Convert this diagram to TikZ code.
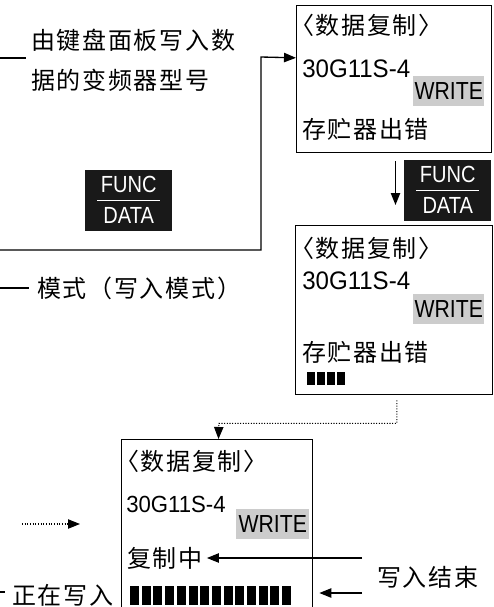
\documentclass[tikz,border=0pt]{standalone}
\usepackage{fontspec}
\setmainfont{Liberation Sans}
\newfontfamily\cjk[LetterSpace=7]{Noto Sans CJK SC}
\newfontfamily\cjkhalf[LetterSpace=7, RawFeature=+halt]{Noto Sans CJK SC}
\newfontfamily\narrow[FakeStretch=0.86]{Liberation Sans}
\newfontfamily\modelfont[FakeStretch=0.95]{Liberation Sans}
\usetikzlibrary{positioning, calc, arrows.meta}
\newdimen\px \px=0.75pt

\begin{document}
\begin{tikzpicture}[x=0.75pt, y=-0.75pt,
  screen/.style={draw, line width=1pt, anchor=north west, inner sep=0},
  zh/.style={anchor=west, inner sep=0, font=\cjk\fontsize{18}{18}\selectfont},
  zhb/.style={zh, font=\cjkhalf\fontsize{18}{18}\selectfont},
  model/.style={anchor=base west, inner sep=0, font=\modelfont\fontsize{19}{19}\selectfont},
  wr/.style={fill=black!20, anchor=north west, inner sep=0, minimum width=71\px, minimum height=30\px, font=\narrow\fontsize{18.5}{18.5}\selectfont},
  key/.style={fill=black!90, anchor=north west, inner sep=0, minimum width=87\px, minimum height=61\px},
  keyword/.style={text=white, inner sep=0, font=\narrow\fontsize{17.5}{17.5}\selectfont},
  link/.style={line width=1pt, -{Triangle[length=9pt, width=7pt]}},
  dots/.style={line width=0.8pt, dash pattern=on 0.8pt off 1.2pt, -{Triangle[length=9pt, width=7pt]}}]

\useasboundingbox (0,0) rectangle (493,607);

% left column
\coordinate (l1) at (0,58);
\coordinate (l2) at (0,288);
\coordinate (in1) at (0,250);
\node[zh] (t1) at (31,40) {由键盘面板写入数};
\node[zh] (t2) at (31,80) {据的变频器型号};
\draw[line width=1pt] (l1) -- ([xshift=-5\px]t1.west |- l1);
\node[key] (k1) at (85,170) {};
\node[keyword, above=6pt of k1.center] {FUNC};
\node[keyword, below=4.5pt of k1.center] {DATA};
\draw[white, line width=0.8pt] ([xshift=-23.5pt]k1.center) -- ([xshift=23.5pt]k1.center);
\node[zh] (t3) at (37,288) {模式（写入模式）};
\draw[line width=1pt] (l2) -- ([xshift=-8\px]t3.west);

% first screen
\node[screen, minimum width=195\px, minimum height=147\px] (b1) at (296,5) {};
\node[zhb] (b1t) at (302,25) {〈数据复制〉};
\node[model] (b1m) at (302,77) {30G11S-4};
\node[wr] (b1w) at (413,76) {WRITE};
\node[zh] (b1e) at (302,129) {存贮器出错};
\draw[link] (in1) -| (261,57) -- ([yshift=16pt]b1.west);

% second screen
\node[key] (k2) at (404,160) {};
\node[keyword, above=6pt of k2.center] {FUNC};
\node[keyword, below=4.5pt of k2.center] {DATA};
\draw[white, line width=0.8pt] ([xshift=-23.5pt]k2.center) -- ([xshift=23.5pt]k2.center);
\node[screen, minimum width=197\px, minimum height=169\px] (b2) at (295,225) {};
\node[zhb] (b2t) at (302,248) {〈数据复制〉};
\node[model] (b2m) at (302,289) {30G11S-4};
\node[wr] (b2w) at (413,294) {WRITE};
\node[zh] (b2e) at (302,352) {存贮器出错};
\foreach \i in {0,...,3}
  \fill (307+\i*10,372) rectangle ++(8,13);
\draw[link] ([xshift=1pt, yshift=-6pt]b1.south) -- ([xshift=1pt, yshift=15pt]b2.north);

% third screen
\node[screen, minimum width=191\px, minimum height=170\px] (b3) at (121,439) {};
\node[zhb] (b3t) at (127,461) {〈数据复制〉};
\node[model, font=\modelfont\fontsize{17.5}{17.5}\selectfont] (b3m) at (126,512) {30G11S-4};
\node[wr, minimum width=73\px] (b3w) at (236,509) {WRITE};
\node[zh] (b3e) at (127,558) {复制中};
\foreach \i in {0,...,13}
  \fill (130+\i*11.7,586) rectangle ++(9,19);
\draw[dots] ([xshift=2pt, yshift=-5\px]b2.south) |- ++(-178,23) -- ([xshift=1pt]b3.north);

% labels at the third screen
\coordinate (e1) at (362,558);
\coordinate (e2) at (362,593);
\coordinate (d1) at (22,524);
\coordinate (d2) at (80,524);
\coordinate (l3) at (0,592);
\node[zh] (done) at (377,577) {写入结束};
\draw[link] (e1) -- ([xshift=4\px]b3e.east);
\draw[link] (e2) -- ([xshift=6\px]b3.east |- e2);
\draw[dots] (d1) -- (d2);
\node[zh] (busy) at (12,595) {正在写入};
\draw[line width=1pt] (l3) -- ([xshift=-7\px]busy.west |- l3);
\end{tikzpicture}
\end{document}
